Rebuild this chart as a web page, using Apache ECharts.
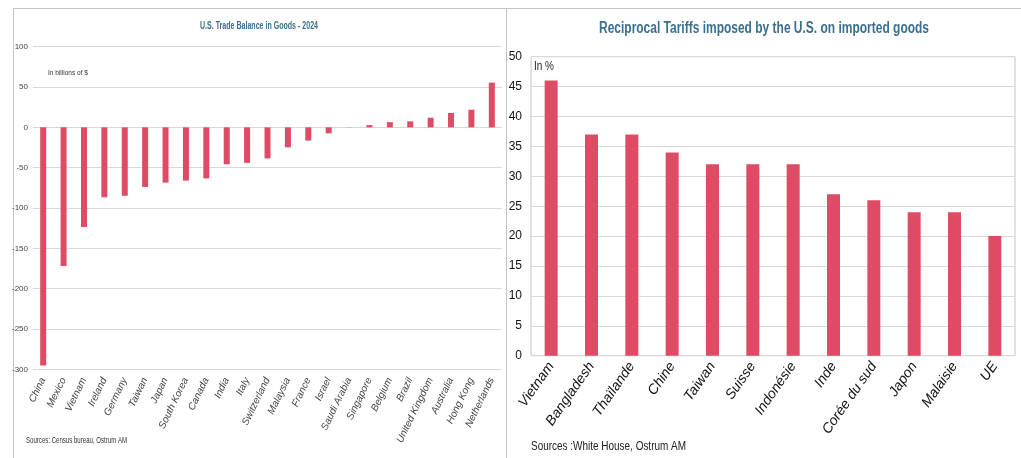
<!DOCTYPE html>
<html>
<head>
<meta charset="utf-8">
<script src="https://cdn.jsdelivr.net/npm/echarts@6/dist/echarts.min.js"></script>
<style>
  html, body { margin: 0; padding: 0; background: #fff; }
  #chart { width: 1021px; height: 458px; }
</style>
</head>
<body>
<div id="chart"></div>
<script>
// U.S. trade balance in goods, 2024 (billions of $)
const balanceCountries = ['China', 'Mexico', 'Vietnam', 'Ireland', 'Germany', 'Taiwan', 'Japan', 'South Korea', 'Canada', 'India', 'Italy', 'Switzerland', 'Malaysia', 'France', 'Israel', 'Saudi Arabia', 'Singapore', 'Belgium', 'Brazil', 'United Kingdom', 'Australia', 'Hong Kong', 'Netherlands'];
const balanceValues = [-295.4, -171.8, -123.5, -86.7, -84.8, -73.9, -68.5, -66.0, -63.3, -45.7, -44.0, -38.5, -24.8, -16.4, -7.4, 0.2, 2.8, 6.4, 7.4, 11.9, 17.9, 21.9, 55.5];
const balanceTicks = { min: -300, max: 100, step: 50 };

// Reciprocal tariffs imposed by the U.S. (in %)
const tariffCountries = ['Vietnam', 'Bangladesh', 'Thaïlande', 'Chine', 'Taiwan', 'Suisse', 'Indonésie', 'Inde', 'Corée du sud', 'Japon', 'Malaisie', 'UE'];
const tariffValues = [46, 37, 37, 34, 32, 32, 32, 27, 26, 24, 24, 20];
const tariffTicks = { min: 0, max: 50, step: 5 };

const FONT = "'Liberation Sans', Arial, sans-serif";
const BAR = '#df4a64';
const TITLE = '#3a6f8d';
const FRAME = '#c4c4c4';
const GRID = '#d9d9d9';

// Horizontal squeeze factor so a regular sans face reads like a narrow one
const measureCtx = document.createElement('canvas').getContext('2d');
function squeeze(text, size, weight, width) {
  measureCtx.font = (weight || 'normal') + ' ' + size + 'px ' + FONT;
  return width / measureCtx.measureText(text).width;
}

// Narrow text drawn as a graphic element, scaled around its anchor
function narrowText(text, x, y, size, weight, width, fill, align) {
  return {
    type: 'text', x: x, y: y,
    scaleX: squeeze(text, size, weight, width), scaleY: 1,
    originX: 0, originY: 0,
    style: {
      x: 0, y: 0, text: text, fontFamily: FONT, fontSize: size,
      fontWeight: weight || 'normal', fill: fill,
      textAlign: align || 'left', textVerticalAlign: 'middle'
    }
  };
}

const chart = echarts.init(document.getElementById('chart'), null, { renderer: 'canvas' });

chart.setOption({
  animation: false,
  backgroundColor: '#ffffff',
  grid: [
    { left: 33, right: 519, top: 46.7, bottom: 88.7, containLabel: false },
    { left: 531, right: 6, top: 56.7, bottom: 102.3, containLabel: false,
      show: true, borderColor: FRAME, borderWidth: 1 }
  ],
  xAxis: [
    {
      type: 'category', gridIndex: 0, data: balanceCountries,
      axisLine: { show: false }, axisTick: { show: false },
      axisLabel: {
        interval: 0, rotate: 64, margin: 9,
        fontFamily: FONT, fontSize: 10, fontStyle: 'italic', color: '#444'
      }
    },
    {
      type: 'category', gridIndex: 1, data: tariffCountries,
      axisLine: { show: false }, axisTick: { show: false },
      axisLabel: {
        interval: 0, rotate: 55, margin: 8,
        fontFamily: FONT, fontSize: 14, fontStyle: 'italic', color: '#111'
      }
    }
  ],
  yAxis: [
    {
      type: 'value', gridIndex: 0,
      min: balanceTicks.min, max: balanceTicks.max, interval: balanceTicks.step,
      axisLine: { show: false }, axisTick: { show: false },
      axisLabel: { fontFamily: FONT, fontSize: 8, color: '#444', margin: 5 },
      splitLine: { lineStyle: { color: GRID, width: 1.2 } }
    },
    {
      type: 'value', gridIndex: 1,
      min: tariffTicks.min, max: tariffTicks.max, interval: tariffTicks.step,
      axisLine: { show: false }, axisTick: { show: false },
      axisLabel: { fontFamily: FONT, fontSize: 12, color: '#111', margin: 9 },
      splitLine: { lineStyle: { color: GRID, width: 1 } }
    }
  ],
  series: [
    {
      type: 'bar', xAxisIndex: 0, yAxisIndex: 0,
      data: balanceValues, barWidth: 6,
      itemStyle: { color: BAR }
    },
    {
      type: 'bar', xAxisIndex: 1, yAxisIndex: 1,
      data: tariffValues, barWidth: 13,
      itemStyle: { color: BAR }
    }
  ],
  graphic: [
    // panel frames
    { type: 'line', shape: { x1: 13, y1: 8.5, x2: 1021, y2: 8.5 }, style: { stroke: FRAME, lineWidth: 1 } },
    { type: 'line', shape: { x1: 13.5, y1: 8, x2: 13.5, y2: 458 }, style: { stroke: FRAME, lineWidth: 1 } },
    { type: 'line', shape: { x1: 506.5, y1: 8, x2: 506.5, y2: 458 }, style: { stroke: FRAME, lineWidth: 1 } },
    // titles
    narrowText('U.S. Trade Balance in Goods - 2024', 259, 26, 10, 'bold', 118, TITLE, 'center'),
    narrowText('Reciprocal Tariffs imposed by the U.S. on imported goods', 764, 29, 16, 'bold', 330, TITLE, 'center'),
    // notes
    narrowText('In billions of $', 48, 73, 8, 'normal', 40, '#333'),
    narrowText('Sources: Census bureau, Ostrum AM', 26, 441, 9, 'normal', 101, '#333'),
    narrowText('In %', 534, 66, 13, 'normal', 20, '#222'),
    narrowText('Sources :White House, Ostrum AM', 531, 446, 13, 'normal', 155, '#222')
  ]
});
</script>
</body>
</html>
